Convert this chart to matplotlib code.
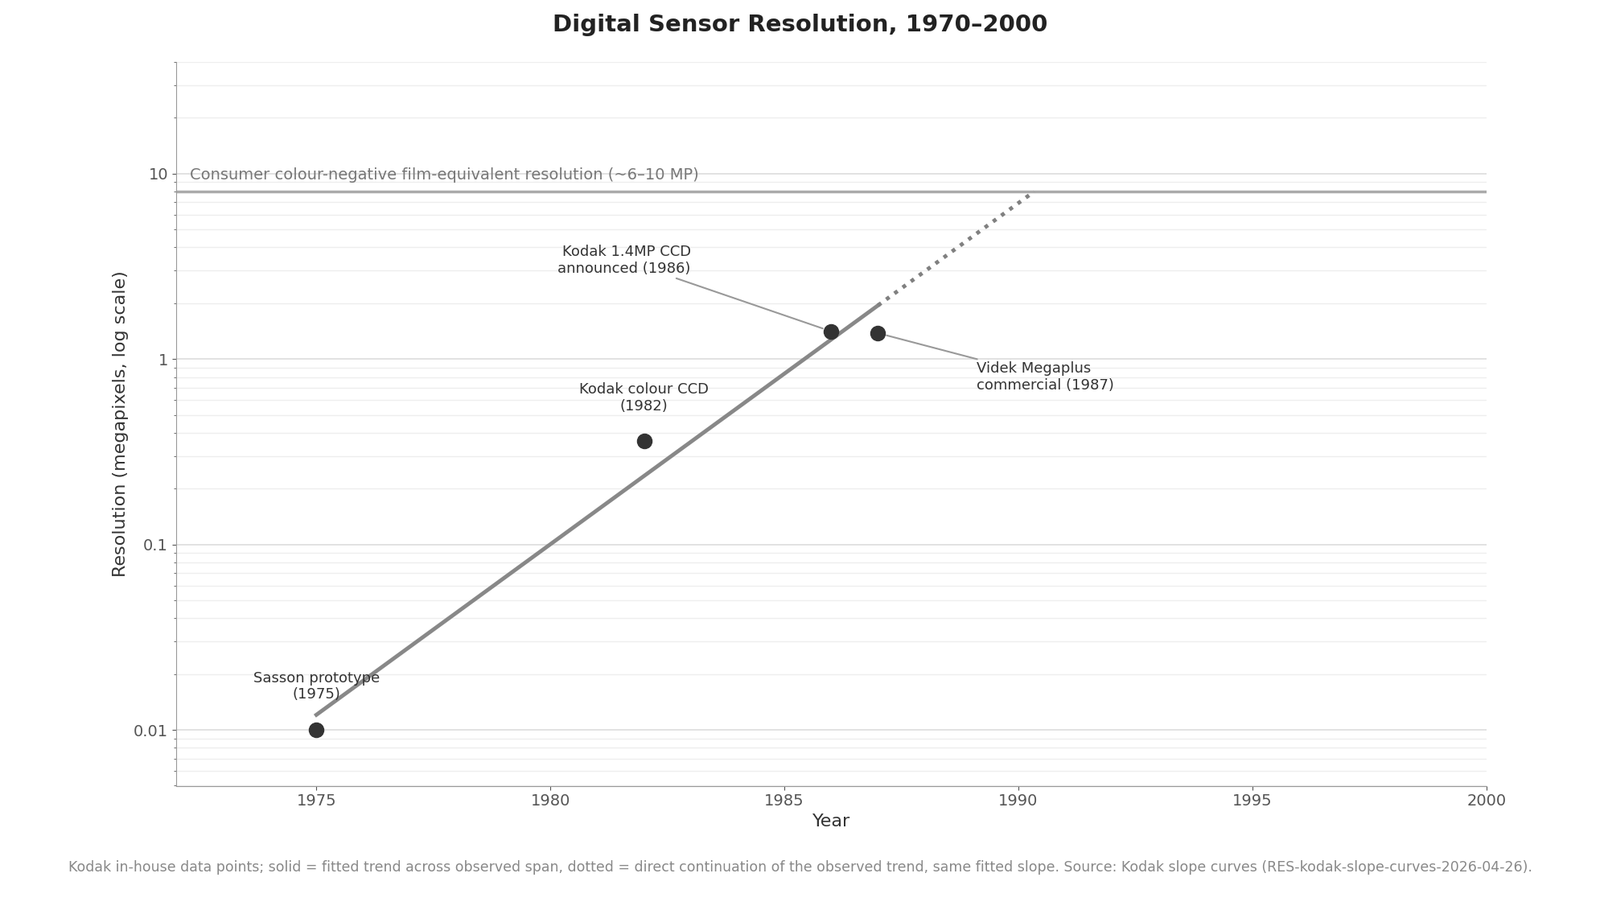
import numpy as np
import matplotlib
matplotlib.use("Agg")
import matplotlib.pyplot as plt
from matplotlib.ticker import FixedLocator, LogLocator, NullFormatter

years = [1975, 1982, 1986, 1987]
mp = [0.01, 0.36, 1.41, 1.38]
labels = ["Sasson prototype\n(1975)", "Kodak colour CCD\n(1982)",
          "Kodak 1.4MP CCD\nannounced (1986)", "Videk Megaplus\ncommercial (1987)"]
film_mp = 8
yticks = [0.01, 0.1, 1, 10]
ytick_labels = ["0.01", "0.1", "1", "10"]

fig = plt.figure(figsize=(19.89, 11.16), dpi=100)
ax = fig.add_axes([0.110, 0.125, 0.819, 0.806])
ax.set_yscale("log")
ax.set_xlim(1972, 2000)
ax.set_ylim(0.005, 40)

slope, icpt = np.polyfit(years, np.log10(mp), 1)
xs = np.linspace(min(years), max(years), 50)
ax.plot(xs, 10 ** (slope * xs + icpt), color="#888888", lw=3.5, zorder=3)
x_end = (np.log10(film_mp) - icpt) / slope
xd = np.linspace(max(years), x_end, 50)
ax.plot(xd, 10 ** (slope * xd + icpt), color="#808080", lw=3.5, ls=(0, (1, 1.6)), zorder=3)

ax.axhline(film_mp, color="#aaaaaa", lw=2.5, zorder=2)
ax.text(1972.3, film_mp * 1.12, "Consumer colour-negative film-equivalent resolution (~6–10 MP)",
        color="#777777", fontsize=14, va="bottom", ha="left")

ax.scatter(years, mp, s=170, color="#333333", zorder=5)

txtkw = dict(fontsize=13, color="#333333")
ax.annotate(labels[0], (years[0], mp[0]), xytext=(0, 25), textcoords="offset points",
            ha="center", va="bottom", **txtkw)
ax.annotate(labels[1], (years[1], mp[1]), xytext=(0, 25), textcoords="offset points",
            ha="center", va="bottom", **txtkw)
ax.annotate(labels[2], (years[2], mp[2]), xytext=(1983, 3.4), ha="right", va="center",
            arrowprops=dict(arrowstyle="-", color="#999999", lw=1.5, shrinkA=0, shrinkB=8), **txtkw)
ax.annotate(labels[3], (years[3], mp[3]), xytext=(1989.1, 0.8), ha="left", va="center",
            arrowprops=dict(arrowstyle="-", color="#999999", lw=1.5, shrinkA=0, shrinkB=8), **txtkw)

ax.yaxis.set_major_locator(FixedLocator(yticks))
ax.set_yticklabels(ytick_labels)
ax.yaxis.set_minor_locator(LogLocator(base=10, subs=np.arange(2, 10)))
ax.yaxis.set_minor_formatter(NullFormatter())
ax.set_xticks([1975, 1980, 1985, 1990, 1995, 2000])
ax.grid(True, which="major", axis="y", color="#dddddd", lw=1.2)
ax.grid(True, which="minor", axis="y", color="#eeeeee", lw=1.0)
ax.set_axisbelow(True)
for s in ["top", "right"]:
    ax.spines[s].set_visible(False)
for s in ["left", "bottom"]:
    ax.spines[s].set_color("#999999")
ax.tick_params(labelsize=14, colors="#555555")
ax.tick_params(which="minor", colors="#555555")

ax.set_xlabel("Year", fontsize=16, color="#333333")
ax.set_ylabel("Resolution (megapixels, log scale)", fontsize=16, color="#333333")
fig.suptitle("Digital Sensor Resolution, 1970–2000", fontsize=21, fontweight="bold",
             color="#222222", y=0.985)
fig.text(0.5, 0.03, "Kodak in-house data points; solid = fitted trend across observed span, dotted = direct "
         "continuation of the observed trend, same fitted slope. Source: Kodak slope curves "
         "(RES-kodak-slope-curves-2026-04-26).", ha="center", fontsize=12.5, color="#888888")
fig.savefig("out.png", dpi=100)
